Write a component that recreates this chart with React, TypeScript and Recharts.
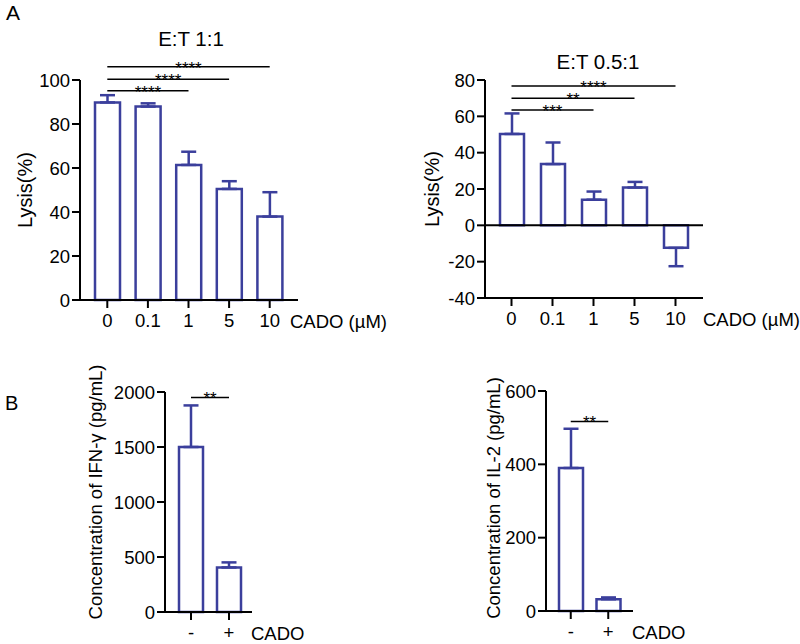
import { Bar, BarChart, ErrorBar, Label, ReferenceLine, XAxis, YAxis } from 'recharts';

const BLUE = '#3b3f9c';
const FONT = '"Liberation Sans", Arial, sans-serif';

// panel A
const doses = ['0', '0.1', '1', '5', '10'];
const lysis11 = [89.8, 87.9, 61.4, 50.5, 37.9];
const lysis11Err = [3.3, 1.5, 6.0, 3.5, 11.1];
const lysis051 = [50.3, 33.7, 14.1, 20.8, -12.4];
const lysis051Err = [11.3, 11.9, 4.5, 3.1, 10.1];
const lysis11Ticks = [0, 20, 40, 60, 80, 100];
const lysis051Ticks = [-40, -20, 0, 20, 40, 60, 80];

// panel B
const cado = ['-', '+'];
const ifng = [1500, 405];
const ifngErr = [378, 46];
const il2 = [390, 32];
const il2Err = [107, 5];
const ifngTicks = [0, 500, 1000, 1500, 2000];
const il2Ticks = [0, 200, 400, 600];

type Sig = { from: string; to: string; y: number; stars: string };

const sig11: Sig[] = [
  { from: '0', to: '1', y: 95.1, stars: '****' },
  { from: '0', to: '5', y: 100.3, stars: '****' },
  { from: '0', to: '10', y: 106, stars: '****' },
];
const sig051: Sig[] = [
  { from: '0', to: '1', y: 63.5, stars: '***' },
  { from: '0', to: '5', y: 69.9, stars: '**' },
  { from: '0', to: '10', y: 76.7, stars: '****' },
];
const sigIfng: Sig[] = [{ from: '-', to: '+', y: 1951, stars: '**' }];
const sigIl2: Sig[] = [{ from: '-', to: '+', y: 517, stars: '**' }];

type PanelProps = {
  left: number;
  top: number;
  width: number;
  height: number;
  margin: { top: number; right: number; bottom: number; left: number };
  cats: string[];
  values: number[];
  errs: number[];
  domain: [number, number];
  ticks: number[];
  padding: { left: number; right: number };
  barSize: number;
  yAxisWidth: number;
  yLabel: string;
  yLabelX: number;
  yLabelDy?: number;
  yLabelSize: number;
  xLabel: string;
  xLabelOffset: number;
  sigs: Sig[];
  zeroLine?: boolean;
};

function Panel(p: PanelProps) {
  const data = p.cats.map((name, i) => ({
    name,
    value: p.values[i],
    err: p.values[i] < 0 ? [p.errs[i], 0] : [0, p.errs[i]],
  }));
  const axisStyle = { stroke: '#000', strokeWidth: 2 };
  return (
    <div style={{ position: 'absolute', left: p.left, top: p.top }}>
      <BarChart width={p.width} height={p.height} data={data} margin={p.margin}>
        <XAxis
          dataKey='name'
          padding={p.padding}
          height={30}
          tickSize={8}
          tickMargin={6}
          interval={0}
          axisLine={axisStyle}
          tickLine={axisStyle}
          tick={{ fill: '#000', fontSize: 18.5 }}
        >
          <Label value={p.xLabel} position='right' offset={p.xLabelOffset} dy={6} fill='#000' fontSize={18.5} />
        </XAxis>
        <YAxis
          type='number'
          domain={p.domain}
          ticks={p.ticks}
          interval={0}
          width={p.yAxisWidth}
          tickSize={8}
          tickMargin={2}
          axisLine={axisStyle}
          tickLine={axisStyle}
          tick={{ fill: '#000', fontSize: 18.5 }}
        >
          <Label
            value={p.yLabel}
            angle={-90}
            position='insideLeft'
            offset={p.yLabelX}
            dy={p.yLabelDy ?? 0}
            fill='#000'
            fontSize={p.yLabelSize}
            style={{ textAnchor: 'middle' }}
          />
        </YAxis>
        {p.zeroLine && <ReferenceLine y={0} stroke='#000' strokeWidth={2} />}
        <Bar dataKey='value' fill='#fff' stroke={BLUE} strokeWidth={2.5} barSize={p.barSize} isAnimationActive={false}>
          <ErrorBar dataKey='err' width={7.5} stroke={BLUE} strokeWidth={2.5} isAnimationActive={false} />
        </Bar>
        {p.sigs.map((s) => (
          <ReferenceLine
            key={s.to + s.y}
            segment={[
              { x: s.from, y: s.y },
              { x: s.to, y: s.y },
            ]}
            ifOverflow='visible'
            stroke='#000'
            strokeWidth={1.5}
            label={{ value: s.stars, position: 'top', offset: -7, fill: '#000', stroke: 'none', fontSize: 17 }}
          />
        ))}
      </BarChart>
    </div>
  );
}

function Title({ text, cx, capTop, size }: { text: string; cx: number; capTop: number; size: number }) {
  return (
    <div
      style={{
        position: 'absolute',
        left: cx - 100,
        width: 200,
        top: capTop - 0.13 * size,
        fontSize: size,
        lineHeight: 1,
        textAlign: 'center',
        color: '#000',
      }}
    >
      {text}
    </div>
  );
}

export default function App() {
  return (
    <div style={{ position: 'absolute', left: 0, top: 0, width: 800, height: 644, background: '#fff', fontFamily: FONT }}>
      <div style={{ position: 'absolute', left: 6, top: 1, fontSize: 21, lineHeight: 1.1 }}>A</div>
      <div style={{ position: 'absolute', left: 5, top: 393, fontSize: 20, lineHeight: 1 }}>B</div>
      <Title text='E:T 1:1' cx={191} capTop={32} size={20.5} />
      <Title text='E:T 0.5:1' cx={598} capTop={55} size={20.5} />
      <Panel
        left={0}
        top={30}
        width={400}
        height={320}
        margin={{ top: 50, right: 102, bottom: 20, left: 0 }}
        cats={doses}
        values={lysis11}
        errs={lysis11Err}
        domain={[0, 100]}
        ticks={lysis11Ticks}
        padding={{ left: 7, right: 8 }}
        barSize={25}
        yAxisWidth={80}
        yLabel='Lysis(%)'
        yLabelX={25}
        yLabelSize={20}
        xLabel='CADO (µM)'
        xLabelOffset={-8}
        sigs={sig11}
      />
      <Panel
        left={400}
        top={30}
        width={400}
        height={320}
        margin={{ top: 50, right: 97, bottom: 22, left: 0 }}
        cats={doses}
        values={lysis051}
        errs={lysis051Err}
        domain={[-40, 80]}
        ticks={lysis051Ticks}
        padding={{ left: 6, right: 7 }}
        barSize={24}
        yAxisWidth={85}
        yLabel='Lysis(%)'
        yLabelX={32}
        yLabelSize={20}
        xLabel='CADO (µM)'
        xLabelOffset={0}
        sigs={sig051}
        zeroLine
      />
      <Panel
        left={0}
        top={360}
        width={400}
        height={284}
        margin={{ top: 32, right: 148, bottom: 2, left: 0 }}
        cats={cado}
        values={ifng}
        errs={ifngErr}
        domain={[0, 2000]}
        ticks={ifngTicks}
        padding={{ left: 7, right: 4 }}
        barSize={24}
        yAxisWidth={165}
        yLabel='Concentration of IFN-γ (pg/mL)'
        yLabelX={95}
        yLabelDy={-10}
        yLabelSize={18.5}
        xLabel='CADO'
        xLabelOffset={-1}
        sigs={sigIfng}
      />
      <Panel
        left={420}
        top={360}
        width={380}
        height={284}
        margin={{ top: 31, right: 167, bottom: 3, left: 0 }}
        cats={cado}
        values={il2}
        errs={il2Err}
        domain={[0, 600]}
        ticks={il2Ticks}
        padding={{ left: 6, right: 6 }}
        barSize={24}
        yAxisWidth={126}
        yLabel='Concentration of IL-2 (pg/mL)'
        yLabelX={73}
        yLabelDy={-3}
        yLabelSize={18.5}
        xLabel='CADO'
        xLabelOffset={-1}
        sigs={sigIl2}
      />
    </div>
  );
}
